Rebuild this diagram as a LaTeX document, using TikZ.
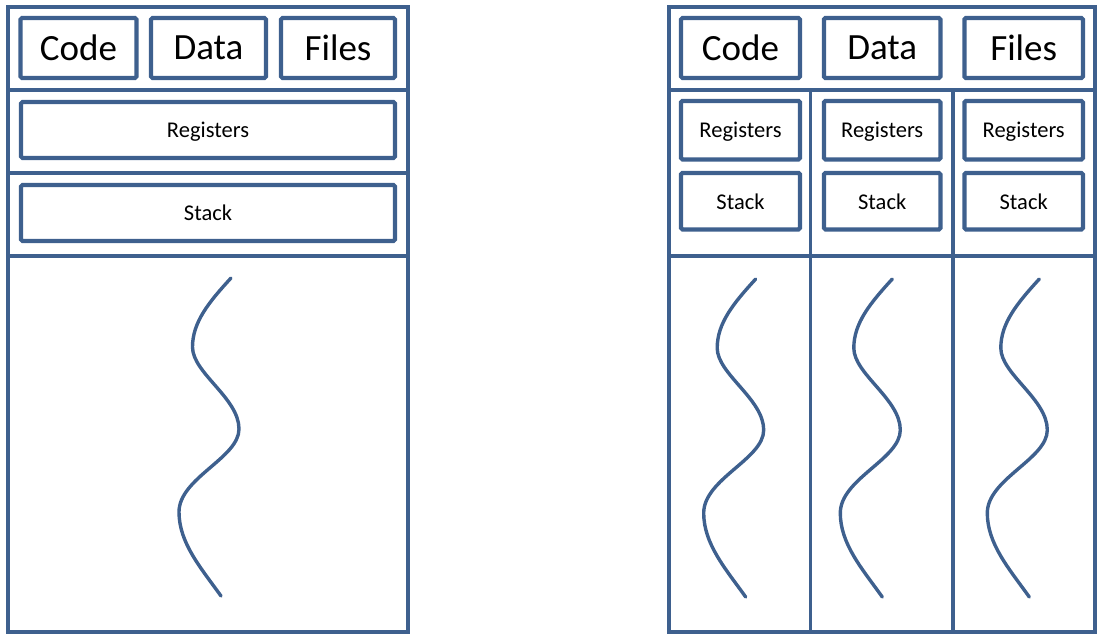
\documentclass[tikz,border=0pt]{standalone}
\usepackage{fontspec}
\setmainfont{Carlito}
\definecolor{frameblue}{RGB}{62,96,142}
\begin{document}
\begin{tikzpicture}[x=1pt,y=-1pt,
  frame/.style={draw=frameblue,line width=3.7pt},
  bigbox/.style={draw=frameblue,line width=4.2pt,rounded corners=1.5pt,inner sep=0pt,text depth=0pt,font=\fontsize{37}{40}\selectfont},
  smallbox/.style={draw=frameblue,line width=4.2pt,rounded corners=1.5pt,inner sep=0pt,text depth=0pt,font=\fontsize{22.5}{26}\selectfont},
  waveline/.style={draw=frameblue,line width=3.4pt,line cap=round},
  thread/.pic={\draw[waveline] (0,0) .. controls (-22,24) and (-38.5,44) .. (-38.5,69)
      .. controls (-38.5,95) and (8,120) .. (8,151)
      .. controls (8,180) and (-52,200) .. (-52,234)
      .. controls (-52,265) and (-30,290) .. (-10,318);}
]
\useasboundingbox (0,0) rectangle (1103,641);
% ---------- left: single-threaded process ----------
\draw[frame] (7.7,7.2) rectangle (408.3,632);
\draw[frame] (7.7,89.7) -- (408.3,89.7);
\draw[frame] (7.7,173) -- (408.3,173);
\draw[frame] (7.7,256.3) -- (408.3,256.3);
\node[bigbox,minimum width=116pt,minimum height=60pt] (lcode) at (78.5,48) {Code};
\node[bigbox,minimum width=115pt,minimum height=60pt] (ldata) at (208.5,48) {Data};
\node[bigbox,minimum width=114pt,minimum height=60pt] (lfiles) at (338,48) {Files};
\node[smallbox,minimum width=374pt,minimum height=56pt] (lregs) at (208,130) {Registers};
\node[smallbox,minimum width=374pt,minimum height=56pt] (lstack) at (208,213) {Stack};
\pic at (231,278) {thread};
% ---------- right: multi-threaded process ----------
\draw[frame] (669.3,7.2) rectangle (1095,632);
\draw[frame] (669.3,89.7) -- (1095,89.7);
\draw[frame] (669.3,256.3) -- (1095,256.3);
\draw[frame] (810.5,89.7) -- (810.5,632);
\draw[frame] (953,89.7) -- (953,632);
\node[bigbox,minimum width=119pt,minimum height=60pt] (rcode) at (740.5,48) {Code};
\node[bigbox,minimum width=116.5pt,minimum height=60pt] (rdata) at (882.2,48) {Data};
\node[bigbox,minimum width=118.5pt,minimum height=60pt] (rfiles) at (1023.7,48) {Files};
\node[smallbox,minimum width=119pt,minimum height=58.5pt] (rregsa) at (740.5,130.2) {Registers};
\node[smallbox,minimum width=116.5pt,minimum height=58.5pt] (rregsb) at (882.2,130.2) {Registers};
\node[smallbox,minimum width=118.5pt,minimum height=58.5pt] (rregsc) at (1023.7,130.2) {Registers};
\node[smallbox,minimum width=119pt,minimum height=56.5pt] (rstacka) at (740.5,201.2) {Stack};
\node[smallbox,minimum width=116.5pt,minimum height=56.5pt] (rstackb) at (882.2,201.2) {Stack};
\node[smallbox,minimum width=118.5pt,minimum height=56.5pt] (rstackc) at (1023.7,201.2) {Stack};
\pic at (755.7,279) {thread};
\pic at (892.3,279) {thread};
\pic at (1039.3,279) {thread};
\end{tikzpicture}
\end{document}
